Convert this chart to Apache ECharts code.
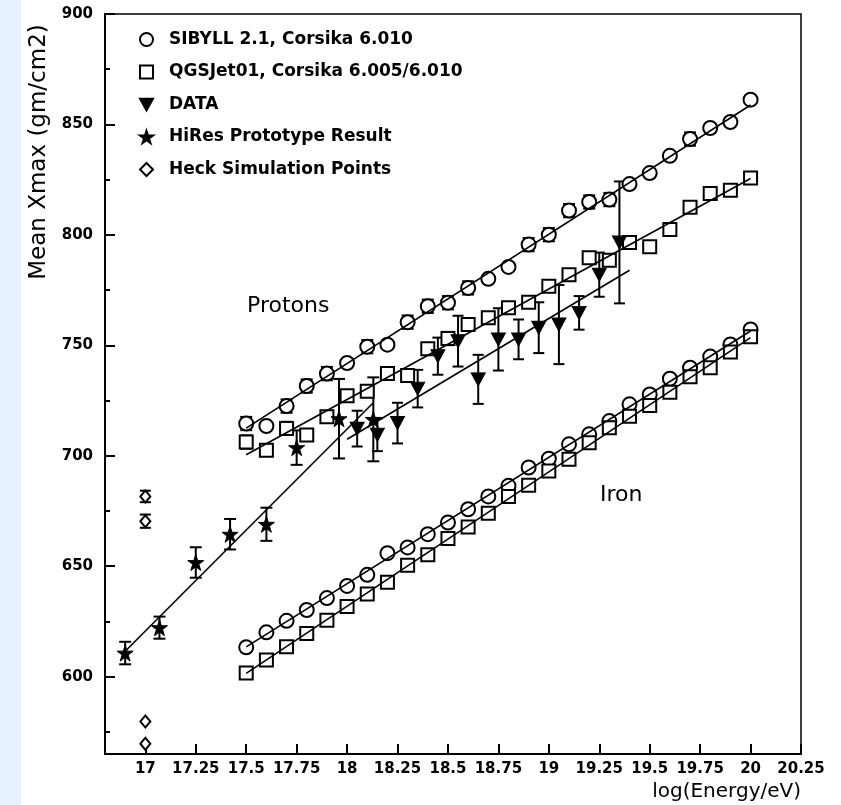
<!DOCTYPE html>
<html>
<head>
<meta charset="utf-8">
<script src="https://cdn.jsdelivr.net/npm/echarts@6/dist/echarts.min.js"></script>
<style>
  html, body { margin: 0; padding: 0; background: #fff; }
  #chart { width: 841px; height: 805px; }
</style>
</head>
<body>
<div id="chart"></div>
<script>
// simulation energies (log E)
var modelX = [17.5, 17.6, 17.7, 17.8, 17.9, 18.0, 18.1, 18.2, 18.3, 18.4, 18.5, 18.6, 18.7,
  18.8, 18.9, 19.0, 19.1, 19.2, 19.3, 19.4, 19.5, 19.6, 19.7, 19.8, 19.9, 20.0]

var sibyllProton = [714.6, 713.5, 722.5, 731.6, 737.2, 742.0, 749.4, 750.3, 760.5, 767.7, 769.3, 776.0, 780.1,
  785.5, 795.6, 800.1, 811.0, 814.9, 816.0, 823.0, 828.0, 835.8, 843.4, 848.4, 851.1, 861.2]
var sibyllProtonErr = [3, 1.5, 3, 3, 3, 1.5, 3, 1.5, 3, 3, 3, 3, 1.5,
  1.5, 3, 3, 3, 3, 3, 1.5, 1.5, 1.5, 3, 1.5, 1.5, 1.5]

var qgsProton = [706.2, 702.5, 712.4, 709.4, 717.7, 727.2, 729.2, 737.2, 736.4, 748.5, 753.1, 759.4, 762.5,
  767.0, 769.5, 776.8, 782.0, 789.6, 788.5, 796.6, 794.6, 802.4, 812.5, 818.7, 820.2, 825.8]
var qgsProtonErr = [3, 1.5, 3, 1.5, 1.5, 1.5, 1.5, 1.5, 1.5, 1.5, 3, 1.5, 1.5,
  1.5, 1.5, 1.5, 1.5, 1.5, 1.5, 1.5, 1.5, 1.5, 1.5, 1.5, 1.5, 1.5]

var sibyllIron = [613.3, 620.1, 625.3, 630.2, 635.6, 641.1, 646.1, 655.9, 658.5, 664.5, 669.8, 675.8, 681.6,
  686.4, 694.7, 698.7, 705.2, 709.7, 715.7, 723.3, 727.8, 734.9, 739.9, 744.9, 750.4, 757.2]
var qgsIron = [601.7, 607.6, 613.6, 619.6, 625.6, 631.8, 637.4, 642.7, 650.5, 655.2, 662.6, 667.8, 674.0,
  681.6, 686.7, 693.1, 698.4, 705.9, 712.7, 717.9, 722.8, 728.8, 735.8, 739.9, 747.0, 753.9]

// measured data
var dataX = [18.05, 18.15, 18.25, 18.35, 18.45, 18.55, 18.65, 18.75, 18.85, 18.95, 19.05, 19.15, 19.25, 19.35]
var dataY = [712.3, 709.5, 714.8, 730.4, 745.1, 751.9, 734.6, 752.7, 752.7, 758.0, 759.4, 764.7, 782.0, 796.6]
var dataErr = [8.1, 7.4, 9.2, 8.5, 8.4, 11.5, 11.1, 14.1, 9.0, 11.5, 17.9, 7.6, 10.0, 27.6]

var hiresX = [16.9, 17.07, 17.25, 17.42, 17.6, 17.75, 17.96, 18.13]
var hiresY = [610.7, 622.2, 651.7, 664.5, 669.0, 703.7, 716.8, 716.5]
var hiresErr = [5.1, 5.0, 6.9, 6.9, 7.5, 7.8, 18.0, 19.0]

var heckX = [17.0, 17.0, 17.0, 17.0]
var heckY = [681.6, 670.4, 579.7, 569.6]
var heckErr = [2.6, 3.0, 0, 0]

// fitted lines (end points)
var sibyllProtonFit = [[17.5, 712.5], [20.0, 858.8]]
var qgsProtonFit = [[17.5, 700.5], [20.0, 825.5]]
var sibyllIronFit = [[17.5, 613.5], [20.0, 756.5]]
var qgsIronFit = [[17.5, 601.5], [20.0, 753.5]]
var dataFit = [[18.0, 707.5], [19.4, 784.0]]
var hiresFit = [[16.9, 611.5], [18.13, 724.0]]

var xTicks = [17, 17.25, 17.5, 17.75, 18, 18.25, 18.5, 18.75, 19, 19.25, 19.5, 19.75, 20, 20.25]
var yMajor = [600, 650, 700, 750, 800, 850, 900]
var yMinor = [575, 625, 675, 725, 775, 825, 875]

var legendNames = ['SIBYLL 2.1, Corsika 6.010', 'QGSJet01, Corsika 6.005/6.010', 'DATA',
  'HiRes Prototype Result', 'Heck Simulation Points']

var FONT = 'DejaVu Sans'
var STAR = 'path://M5,0L6.18,3.62L10,3.62L6.91,5.86L8.09,9.51L5,7.27L1.91,9.51L3.09,5.86L0,3.62L3.82,3.62Z'
var TRI_DOWN = 'path://M0,0L10,0L5,9Z'

function pairs(xs, ys) {
  return xs.map(function (x, i) { return [x, ys[i]] })
}

function bars(xs, ys, errs) {
  var out = []
  xs.forEach(function (x, i) {
    if (errs[i] > 0) out.push([x, ys[i] - errs[i], ys[i] + errs[i]])
  })
  return out
}

function errorBars(name, data, capW) {
  return {
    name: name,
    type: 'custom',
    silent: true,
    z: 1,
    encode: { x: 0, y: [1, 2] },
    data: data,
    renderItem: function (params, api) {
      var lo = api.coord([api.value(0), api.value(1)])
      var hi = api.coord([api.value(0), api.value(2)])
      var h = capW / 2
      var st = { stroke: '#000', lineWidth: 2 }
      return {
        type: 'group',
        children: [
          { type: 'line', shape: { x1: lo[0], y1: lo[1], x2: hi[0], y2: hi[1] }, style: st },
          { type: 'line', shape: { x1: lo[0] - h, y1: lo[1], x2: lo[0] + h, y2: lo[1] }, style: st },
          { type: 'line', shape: { x1: hi[0] - h, y1: hi[1], x2: hi[0] + h, y2: hi[1] }, style: st }
        ]
      }
    }
  }
}

function fitLine(name, data) {
  return {
    name: name,
    type: 'line',
    data: data,
    showSymbol: false,
    silent: true,
    z: 4,
    lineStyle: { color: '#000', width: 1.6 }
  }
}

function points(name, data, symbol, size, filled) {
  return {
    name: name,
    type: 'scatter',
    data: data,
    symbol: symbol,
    symbolSize: size,
    z: 3,
    itemStyle: filled
      ? { color: '#000', borderColor: '#000', borderWidth: 1, opacity: 1 }
      : { color: '#fff', borderColor: '#000', borderWidth: 2, opacity: 1 }
  }
}

var myChart = echarts.init(document.getElementById('chart'))

var option = {
  animation: false,
  backgroundColor: '#fff',
  graphic: [
    { type: 'rect', left: 0, top: 0, z: -10, shape: { width: 21, height: 805 }, style: { fill: '#e6f2fd' } },
    {
      type: 'text', x: 39, y: 152, rotation: Math.PI / 2,
      style: { text: 'Mean Xmax (gm/cm2)', font: '23px "DejaVu Sans"', fill: '#000',
        textAlign: 'center', textVerticalAlign: 'middle', align: 'center', verticalAlign: 'middle' }
    },
    { type: 'text', left: 247, top: 295, style: { text: 'Protons', font: '22px "DejaVu Sans"', fill: '#000' } },
    { type: 'text', left: 600, top: 484, style: { text: 'Iron', font: '22px "DejaVu Sans"', fill: '#000' } }
  ],
  legend: {
    data: legendNames,
    orient: 'vertical',
    left: 134,
    top: 26,
    itemWidth: 13,
    itemHeight: 13,
    itemGap: 15.5,
    selectedMode: false,
    textStyle: { fontFamily: FONT, fontSize: 17, fontWeight: 'bold', color: '#000', padding: [0, 0, 0, 11] }
  },
  grid: {
    left: 105,
    right: 40,
    top: 14,
    bottom: 51,
    show: true,
    borderColor: '#000',
    borderWidth: 1.5
  },
  xAxis: {
    type: 'value',
    min: 16.8,
    max: 20.25,
    name: 'log(Energy/eV)',
    nameLocation: 'end',
    nameGap: 0,
    nameTextStyle: { fontFamily: FONT, fontSize: 20, color: '#000', align: 'right', verticalAlign: 'top', padding: [28, 0, 0, 0] },
    splitLine: { show: false },
    axisLine: { lineStyle: { color: '#000', width: 2 } },
    axisTick: { inside: true, length: 10, customValues: xTicks, lineStyle: { color: '#000', width: 2 } },
    axisLabel: {
      customValues: xTicks,
      margin: 8,
      color: '#000',
      fontFamily: FONT,
      fontSize: 15,
      fontWeight: 'bold',
      formatter: function (v) { return String(+v.toFixed(2)) }
    }
  },
  yAxis: [
    {
      type: 'value',
      min: 565,
      max: 900,
      position: 'left',
      splitLine: { show: false },
      axisLine: { show: true, lineStyle: { color: '#000', width: 2 } },
      axisTick: { inside: true, length: 10, customValues: yMajor, lineStyle: { color: '#000', width: 2 } },
      axisLabel: { customValues: yMajor, margin: 12, color: '#000', fontFamily: FONT, fontSize: 15, fontWeight: 'bold' }
    },
    {
      type: 'value',
      min: 565,
      max: 900,
      position: 'left',
      offset: 0,
      splitLine: { show: false },
      axisLine: { show: false },
      axisTick: { inside: true, length: 5, customValues: yMinor, lineStyle: { color: '#000', width: 2 } },
      axisLabel: { show: false }
    }
  ],
  series: [
    errorBars('sibyll err', bars(modelX, sibyllProton, sibyllProtonErr), 12),
    errorBars('qgs err', bars(modelX, qgsProton, qgsProtonErr), 12),
    errorBars('data err', bars(dataX, dataY, dataErr), 11),
    errorBars('hires err', bars(hiresX, hiresY, hiresErr), 12),
    errorBars('heck err', bars(heckX, heckY, heckErr), 11),

    points(legendNames[0], pairs(modelX, sibyllProton), 'circle', 14, false),
    points(legendNames[1], pairs(modelX, qgsProton), 'rect', 13, false),
    points(legendNames[2], pairs(dataX, dataY), TRI_DOWN, [14, 13], true),
    points(legendNames[3], pairs(hiresX, hiresY), STAR, 16, true),
    points(legendNames[4], pairs(heckX, heckY), 'diamond', [10, 12], false),
    points(legendNames[0], pairs(modelX, sibyllIron), 'circle', 14, false),
    points(legendNames[1], pairs(modelX, qgsIron), 'rect', 13, false),

    fitLine('sibyll p fit', sibyllProtonFit),
    fitLine('qgs p fit', qgsProtonFit),
    fitLine('sibyll fe fit', sibyllIronFit),
    fitLine('qgs fe fit', qgsIronFit),
    fitLine('data fit', dataFit),
    fitLine('hires fit', hiresFit)
  ]
}

myChart.setOption(option)
</script>
</body>
</html>
